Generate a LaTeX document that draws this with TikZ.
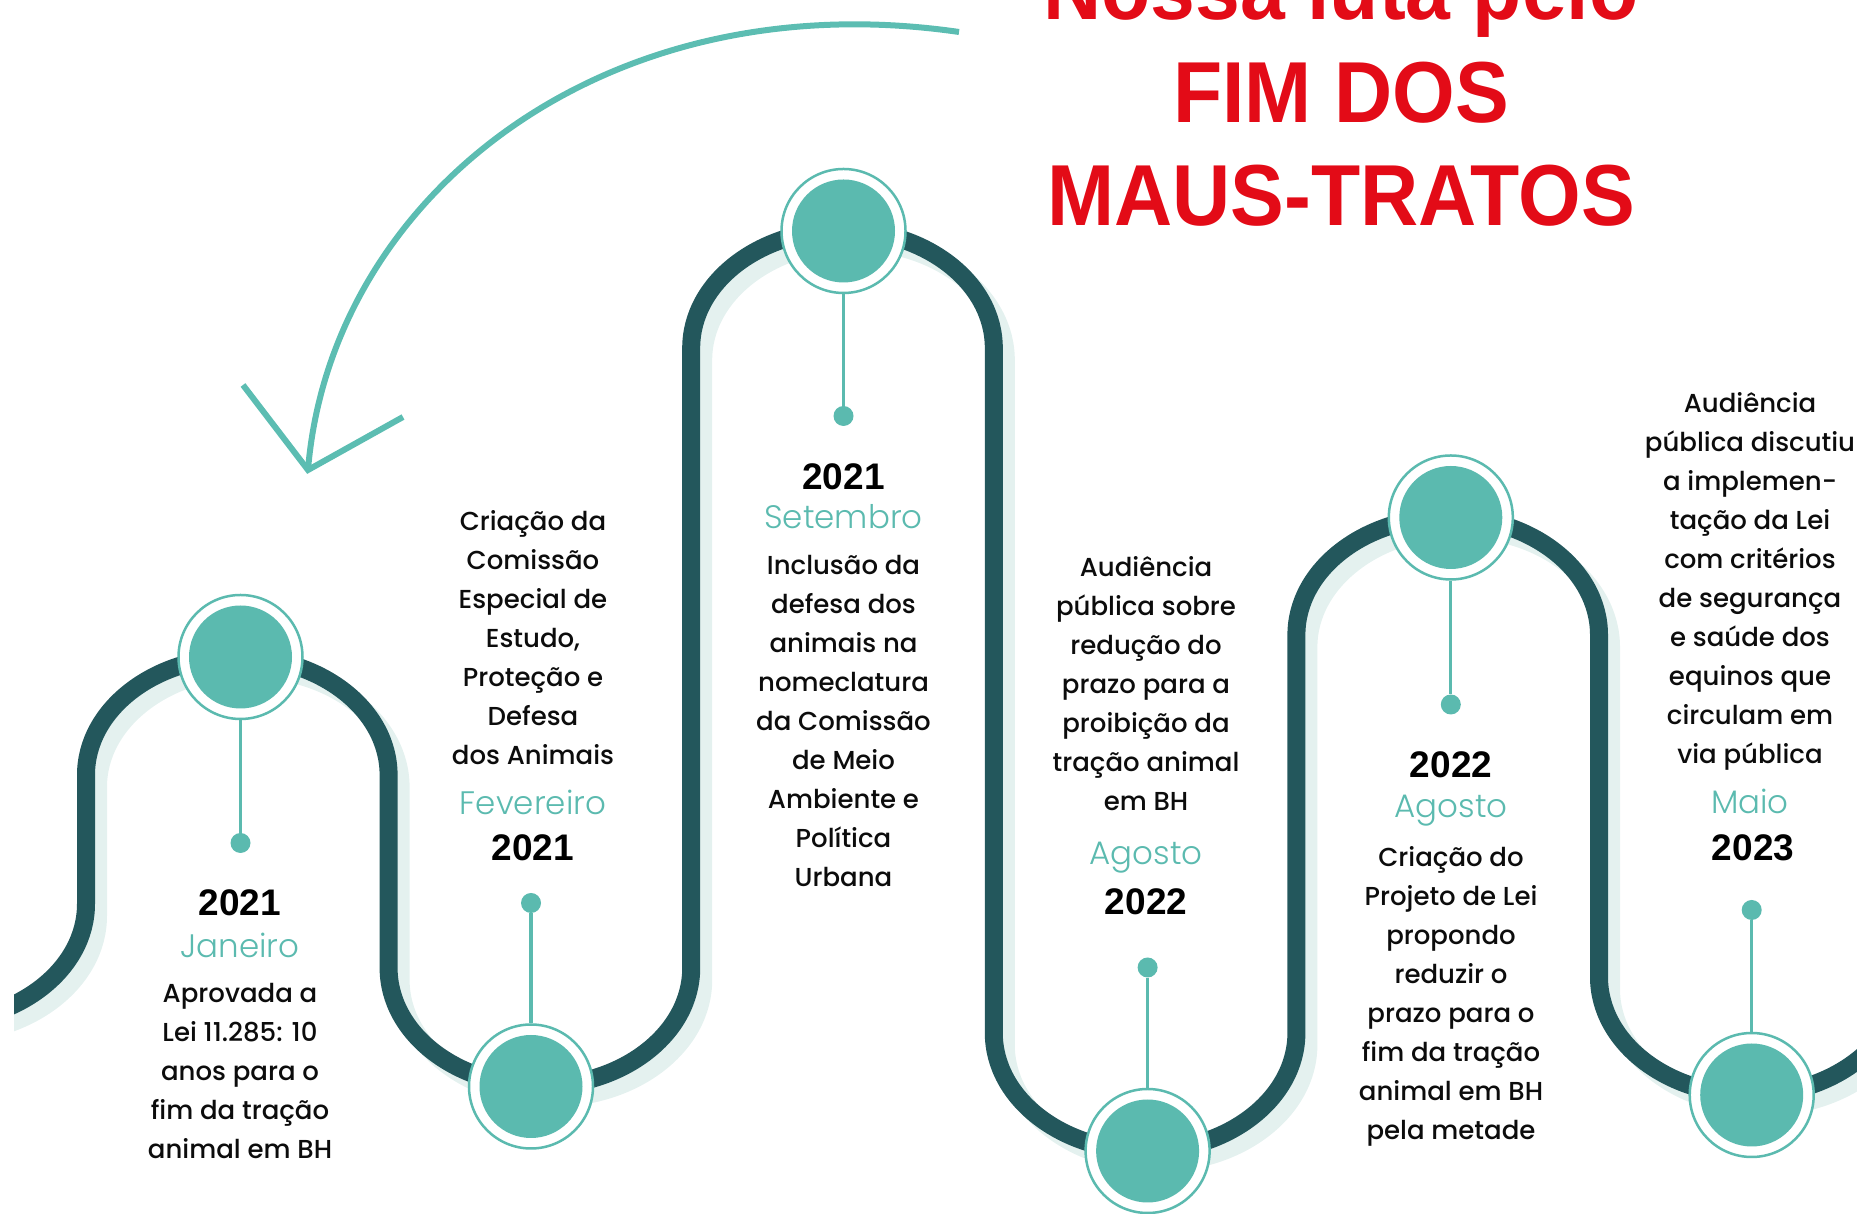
\documentclass[tikz,border=0pt]{standalone}
\usepackage{fontspec}
\setmainfont{Poppins}
\newfontfamily\titlefont[FakeStretch=0.93]{Liberation Sans}
\newfontfamily\yearfont{Liberation Sans}
\IfFontExistsTF{Poppins Light}{\newfontfamily\monthfont{Poppins Light}}{\newfontfamily\monthfont{Poppins}}
\IfFontExistsTF{Poppins Medium}{\newfontfamily\bodyfont{Poppins Medium}}{\newfontfamily\bodyfont{Poppins}}
\definecolor{trackdark}{RGB}{35,87,92}
\definecolor{trackshadow}{RGB}{228,241,239}
\definecolor{mint}{RGB}{91,186,175}
\definecolor{arrowmint}{RGB}{92,189,178}
\definecolor{titlered}{RGB}{227,11,23}
\definecolor{ink}{RGB}{12,12,12}

\begin{document}
\begin{tikzpicture}[x=1pt, y=1pt]
    \tikzstyle{track}=[draw=trackdark, line width=18pt]
    \tikzstyle{trackshade}=[draw=trackshadow, line width=18pt]
    \tikzstyle{lobe}=[x radius=151.3, y radius=118]
    \tikzstyle{ring}=[circle, draw=mint, line width=2.5pt, fill=white, minimum size=124pt, inner sep=0pt,
        path picture={\fill[mint] (path picture bounding box.center) circle[radius=51.5];}]
    \tikzstyle{pin dot}=[circle, fill=mint, minimum size=20pt, inner sep=0pt]
    \tikzstyle{stem}=[draw=mint, line width=3.3pt]
    \tikzstyle{pointer}=[draw=arrowmint, line width=6pt]
    \tikzstyle{year}=[font=\yearfont\bfseries\fontsize{37}{42}\selectfont, text=black, anchor=base, inner sep=0pt]
    \tikzstyle{month}=[font=\monthfont\fontsize{32.5}{38}\selectfont, text=mint, anchor=base, inner sep=0pt]
    \tikzstyle{body}=[font=\bodyfont\fontsize{26}{39}\selectfont, text=ink, align=center, anchor=north, inner sep=0pt,
        execute at begin node={\rule{0pt}{28pt}}]
    \tikzstyle{title}=[font=\titlefont\bfseries\fontsize{86.6}{103}\selectfont, text=titlered, align=center, anchor=south, inner sep=0pt]

    \useasboundingbox (0,0) rectangle (1857,1214);

    % winding track with its light shadow
    \begin{scope}
    \clip (14,0) rectangle (1857,1214);
    \foreach \sty/\dx/\dy in {trackshade/12/-12, track/0/0} {
        \draw[\sty, shift={(\dx,\dy)}] (-65.3,192) arc[lobe, start angle=-90, end angle=0]
            -- ++(0,129) arc[lobe, start angle=180, end angle=0]
            -- ++(0,-193) arc[lobe, start angle=180, end angle=360]
            -- ++(0,620) arc[lobe, start angle=180, end angle=0]
            -- ++(0,-685) arc[lobe, start angle=180, end angle=360]
            -- ++(0,398) arc[lobe, start angle=180, end angle=0]
            -- ++(0,-342) arc[lobe, start angle=180, end angle=360];
    }
    \end{scope}

    % title and curved arrow
    \node[title] (title) at (1341,987) {Nossa luta pelo\\FIM DOS\\MAUS-TRATOS};
    \coordinate (arrow start) at (959,1182);
    \coordinate (arrow tip) at (308,744);
    \coordinate (arm left) at (243,829);
    \coordinate (arm right) at (403,797);
    \draw[pointer] (arrow start) .. controls (600,1234) and (330,1014) .. (arrow tip);
    \draw[pointer] (arm left) -- (arrow tip) -- (arm right);

    % milestones
    \node[ring] (janring) at (240.5,557) {};
    \node[pin dot] (jandot) at (240.5,371) {};
    \node[ring] (fevring) at (531,127.5) {};
    \node[pin dot] (fevdot) at (531,311) {};
    \node[ring] (setring) at (843.5,983) {};
    \node[pin dot] (setdot) at (843.5,798) {};
    \node[ring] (agoring) at (1147.6,63) {};
    \node[pin dot] (agodot) at (1147.6,246.5) {};
    \node[ring] (agotring) at (1450.8,696.5) {};
    \node[pin dot] (agotdot) at (1450.8,509.5) {};
    \node[ring] (maioring) at (1751.7,119) {};
    \node[pin dot] (maiodot) at (1751.7,304) {};

    \draw[stem] (janring) -- (jandot);
    \draw[stem] (fevring) -- (fevdot);
    \draw[stem] (setring) -- (setdot);
    \draw[stem] (agoring) -- (agodot);
    \draw[stem] (agotring) -- (agotdot);
    \draw[stem] (maioring) -- (maiodot);

    % texts
    \node[year] (janyear) at (240,298) {2021};
    \node[month] (janmonth) at (240,256.7) {Janeiro};
    \node[body] (jantext) at (240,231) {Aprovada a\\Lei 11.285: 10\\anos para o\\fim da tração\\animal em BH};

    \node[body] (fevtext) at (533,703.6) {Criação da\\Comissão\\Especial de\\Estudo,\\Proteção e\\Defesa\\dos Animais};
    \node[month] (fevmonth) at (533,399) {Fevereiro};
    \node[year] (fevyear) at (533,353.5) {2021};

    \node[year] (setyear) at (843.5,724) {2021};
    \node[month] (setmonth) at (843.5,685.5) {Setembro};
    \node[body] (settext) at (843.5,658.6) {Inclusão da\\defesa dos\\animais na\\nomeclatura\\da Comissão\\de Meio\\Ambiente e\\Política\\Urbana};

    \node[body] (agotext) at (1146,657.4) {Audiência\\pública sobre\\redução do\\prazo para a\\proibição da\\tração animal\\em BH};
    \node[month] (agomonth) at (1146,349) {Agosto};
    \node[year] (agoyear) at (1146,299) {2022};

    \node[year] (agotyear) at (1451,436.5) {2022};
    \node[month] (agotmonth) at (1451,396.5) {Agosto};
    \node[body] (agottext) at (1451,367.3) {Criação do\\Projeto de Lei\\propondo\\reduzir o\\prazo para o\\fim da tração\\animal em BH\\pela metade};

    \node[body] (maiotext) at (1750,822) {Audiência\\pública discutiu\\a implemen-\\tação da Lei\\com critérios\\de segurança\\e saúde dos\\equinos que\\circulam em\\via pública};
    \node[month] (maiomonth) at (1750,400) {Maio};
    \node[year] (maioyear) at (1753,353.5) {2023};
\end{tikzpicture}
\end{document}
